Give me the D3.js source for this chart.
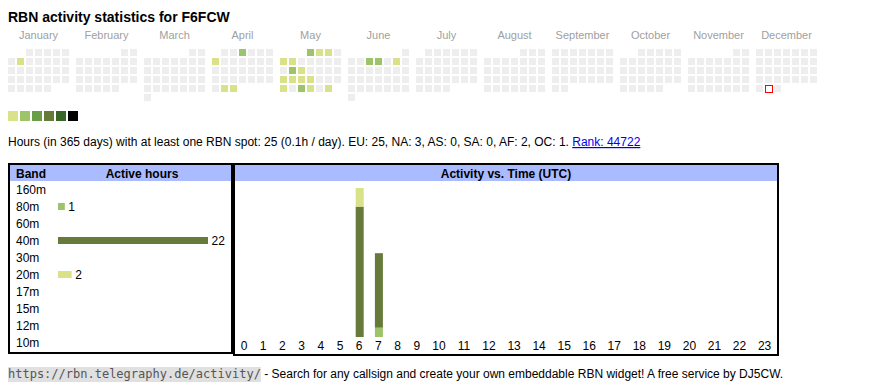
<!DOCTYPE html>
<html>
<head>
<meta charset="utf-8">
<script src="https://cdn.jsdelivr.net/npm/d3@7"></script>
<style>
  body { margin: 0; background: #fff; }
  svg { display: block; font-family: "Liberation Sans", Arial, sans-serif; }
  text { white-space: pre; }
</style>
</head>
<body>
<svg id="chart" width="870" height="390"></svg>
<script>
const callsign = 'F6FCW';
const year = 2025;
const today = '2025-12-30';
const monthNames = ['January', 'February', 'March', 'April', 'May', 'June',
  'July', 'August', 'September', 'October', 'November', 'December'];

// [date, active hours that day]
const activeDays = [
  ['2025-01-07', 1],
  ['2025-04-03', 2], ['2025-04-07', 1], ['2025-04-29', 1], ['2025-04-30', 1],
  ['2025-05-01', 2], ['2025-05-02', 1], ['2025-05-03', 1], ['2025-05-05', 1],
  ['2025-05-06', 1], ['2025-05-13', 2], ['2025-05-14', 1], ['2025-05-19', 1],
  ['2025-05-20', 1], ['2025-05-21', 1], ['2025-05-22', 1], ['2025-05-26', 1],
  ['2025-05-28', 2], ['2025-05-29', 1], ['2025-05-31', 1],
  ['2025-06-04', 2], ['2025-06-05', 2], ['2025-06-07', 1]
];
const levelColors = ['#d9e289', '#9ec46a', '#6a9e46', '#667a3a', '#386626', '#000000'];

const bands = ['160m', '80m', '60m', '40m', '30m', '20m', '17m', '15m', '12m', '10m'];
const bandHours = [0, 1, 0, 22, 0, 2, 0, 0, 0, 0];
const bandColors = ['#888888', '#9ec46a', '#aaaaaa', '#667a3a', '#bbbbbb', '#d9e289',
  '#cccccc', '#dddddd', '#eeeeee', '#999999'];

const hourLabels = [0, 1, 2, 3, 4, 5, 6, 7, 8, 9, 10, 11, 12, 13, 14, 15, 16, 17, 18, 19, 20, 21, 22, 23];
const hours80m = [0, 0, 0, 0, 0, 0, 0, 1, 0, 0, 0, 0, 0, 0, 0, 0, 0, 0, 0, 0, 0, 0, 0, 0];
const hours40m = [0, 0, 0, 0, 0, 0, 14, 8, 0, 0, 0, 0, 0, 0, 0, 0, 0, 0, 0, 0, 0, 0, 0, 0];
const hours20m = [0, 0, 0, 0, 0, 0, 2, 0, 0, 0, 0, 0, 0, 0, 0, 0, 0, 0, 0, 0, 0, 0, 0, 0];

const statsText = 'Hours (in 365 days) with at least one RBN spot: 25 (0.1h / day). EU: 25, NA: 3, AS: 0, SA: 0, AF: 2, OC: 1. ';
const rankText = 'Rank: 44722';
const footerUrl = 'https://rbn.telegraphy.de/activity/';
const footerText = ' - Search for any callsign and create your own embeddable RBN widget! A free service by DJ5CW.';

const svg = d3.select('#chart');
const parse = d3.timeParse('%Y-%m-%d');

// title
svg.append('text')
  .attr('x', 8).attr('y', 21.5)
  .attr('font-size', 14).attr('font-weight', 'bold')
  .text(`RBN activity statistics for ${callsign}`);

// ---- calendar ----
const monthX = d3.scaleBand().domain(d3.range(12)).range([8, 8 + 68 * 12 - 7]).paddingInner(7 / 68);
const dayX = d3.scaleBand().domain(d3.range(7)).range([0, 61]).paddingInner(2 / 9);
const weekY = d3.scaleBand().domain(d3.range(6)).range([49, 49 + 9 * 6 - 2]).paddingInner(2 / 9);
const level = d3.scaleOrdinal().domain([1, 2, 3, 4, 5, 6]).range(levelColors);

const activity = new Map(activeDays.map(d => [d[0], d[1]]));
const fmt = d3.timeFormat('%Y-%m-%d');
const days = d3.timeDay.range(new Date(year, 0, 1), new Date(year + 1, 0, 1));
const weekday = d => (d.getDay() + 6) % 7;
const weekOfMonth = d => Math.floor((d.getDate() - 1 + weekday(new Date(d.getFullYear(), d.getMonth(), 1))) / 7);

svg.append('g').selectAll('text')
  .data(monthNames)
  .join('text')
  .attr('x', (d, i) => monthX(i) + monthX.bandwidth() / 2)
  .attr('y', 38.5)
  .attr('text-anchor', 'middle')
  .attr('font-size', 11)
  .attr('fill', '#a0a0a0')
  .text(d => d);

svg.append('g').selectAll('rect')
  .data(days)
  .join('rect')
  .attr('x', d => monthX(d.getMonth()) + dayX(weekday(d)))
  .attr('y', d => weekY(weekOfMonth(d)))
  .attr('width', dayX.bandwidth())
  .attr('height', weekY.bandwidth())
  .attr('fill', d => activity.has(fmt(d)) ? level(activity.get(fmt(d))) : '#eeeeee');

// today marker
const td = parse(today);
svg.append('rect')
  .attr('x', monthX(td.getMonth()) + dayX(weekday(td)) + 0.5)
  .attr('y', weekY(weekOfMonth(td)) + 0.5)
  .attr('width', dayX.bandwidth())
  .attr('height', weekY.bandwidth())
  .attr('fill', '#fff')
  .attr('stroke', '#ff0000')
  .attr('stroke-width', 1);

// legend
const legendX = d3.scaleBand().domain(d3.range(levelColors.length)).range([8, 8 + 12 * 6 - 2]).paddingInner(2 / 12);
svg.append('g').selectAll('rect')
  .data(levelColors)
  .join('rect')
  .attr('x', (d, i) => legendX(i))
  .attr('y', 111)
  .attr('width', legendX.bandwidth())
  .attr('height', 10)
  .attr('fill', d => d);

// stats line
const stats = svg.append('text')
  .attr('x', 8).attr('y', 146)
  .attr('font-size', 12)
  .text(statsText);
svg.append('text')
  .attr('x', 8 + stats.node().getComputedTextLength())
  .attr('y', 146)
  .attr('font-size', 12)
  .attr('fill', '#0000ee')
  .attr('text-decoration', 'underline')
  .text(rankText);

// ---- band table ----
const left = svg.append('g');
left.append('rect').attr('x', 10).attr('y', 165).attr('width', 221).attr('height', 16).attr('fill', '#aabbff');
left.append('rect').attr('x', 9).attr('y', 164).attr('width', 223).attr('height', 189)
  .attr('fill', 'none').attr('stroke', '#000').attr('stroke-width', 2);
left.append('text').attr('x', 16).attr('y', 177.5).attr('font-size', 12).attr('font-weight', 'bold').text('Band');
left.append('text').attr('x', 142).attr('y', 177.5).attr('font-size', 12).attr('font-weight', 'bold')
  .attr('text-anchor', 'middle').text('Active hours');

const bandY = d3.scaleBand().domain(bands).range([181, 351]);
const barW = d3.scaleLinear().domain([0, 22]).range([0, 150]);

const rows = left.selectAll('g.row')
  .data(bands.map((b, i) => ({ band: b, hours: bandHours[i], color: bandColors[i] })))
  .join('g').attr('class', 'row')
  .attr('transform', d => `translate(0,${bandY(d.band) + bandY.bandwidth() / 2})`);
rows.append('text').attr('x', 16).attr('y', 4.3).attr('font-size', 12).text(d => d.band);
rows.filter(d => d.hours > 0).append('rect')
  .attr('x', 58).attr('y', -3.5)
  .attr('width', d => barW(d.hours)).attr('height', 7)
  .attr('fill', d => d.color);
rows.filter(d => d.hours > 0).append('text')
  .attr('x', d => 58 + barW(d.hours) + 3.5).attr('y', 4.3)
  .attr('font-size', 12).text(d => d.hours);

// ---- hour chart ----
const right = svg.append('g');
right.append('rect').attr('x', 235).attr('y', 165).attr('width', 542).attr('height', 16).attr('fill', '#aabbff');
right.append('rect').attr('x', 234).attr('y', 164).attr('width', 544).attr('height', 191)
  .attr('fill', 'none').attr('stroke', '#000').attr('stroke-width', 2);
right.append('text').attr('x', 506).attr('y', 177.5).attr('font-size', 12).attr('font-weight', 'bold')
  .attr('text-anchor', 'middle').text('Activity vs. Time (UTC)');

// table-like column widths: wider columns for two-digit hours
const colW = hourLabels.map(h => String(h).length === 1 ? 19.2 : 25.05);
let acc = 234.4;
const centers = colW.map(w => { const c = acc + w / 2; acc += w; return c; });
const hourX = d3.scaleOrdinal().domain(hourLabels).range(centers);
const hourY = d3.scaleLinear().domain([0, 16]).range([337, 188]);

const hourTable = hourLabels.map((h, i) => ({ hour: h, '80m': hours80m[i], '40m': hours40m[i], '20m': hours20m[i] }));
const stackKeys = ['80m', '40m', '20m'];
const series = d3.stack().keys(stackKeys)(hourTable);

right.append('g').selectAll('g')
  .data(series)
  .join('g')
  .attr('fill', d => bandColors[bands.indexOf(d.key)])
  .selectAll('rect')
  .data(d => d.filter(p => p[1] > p[0]))
  .join('rect')
  .attr('x', d => hourX(d.data.hour) - 3.5)
  .attr('y', d => hourY(d[1]))
  .attr('width', 8)
  .attr('height', d => hourY(d[0]) - hourY(d[1]));

right.append('g').selectAll('text')
  .data(hourLabels)
  .join('text')
  .attr('x', d => hourX(d))
  .attr('y', 350)
  .attr('text-anchor', 'middle')
  .attr('font-size', 12)
  .text(d => d);

// ---- footer ----
const foot = svg.append('g');
const urlBg = foot.append('rect')
  .attr('x', 8).attr('y', 367).attr('height', 15)
  .attr('fill', '#e0e0e0');
const url = foot.append('text')
  .attr('x', 8).attr('y', 378)
  .attr('font-family', '"DejaVu Sans Mono", monospace')
  .attr('font-size', 12)
  .attr('fill', '#555')
  .text(footerUrl);
const urlW = url.node().getComputedTextLength();
urlBg.attr('width', urlW);
foot.append('text')
  .attr('x', 8 + urlW).attr('y', 378)
  .attr('font-size', 12)
  .text(footerText);
</script>
</body>
</html>
